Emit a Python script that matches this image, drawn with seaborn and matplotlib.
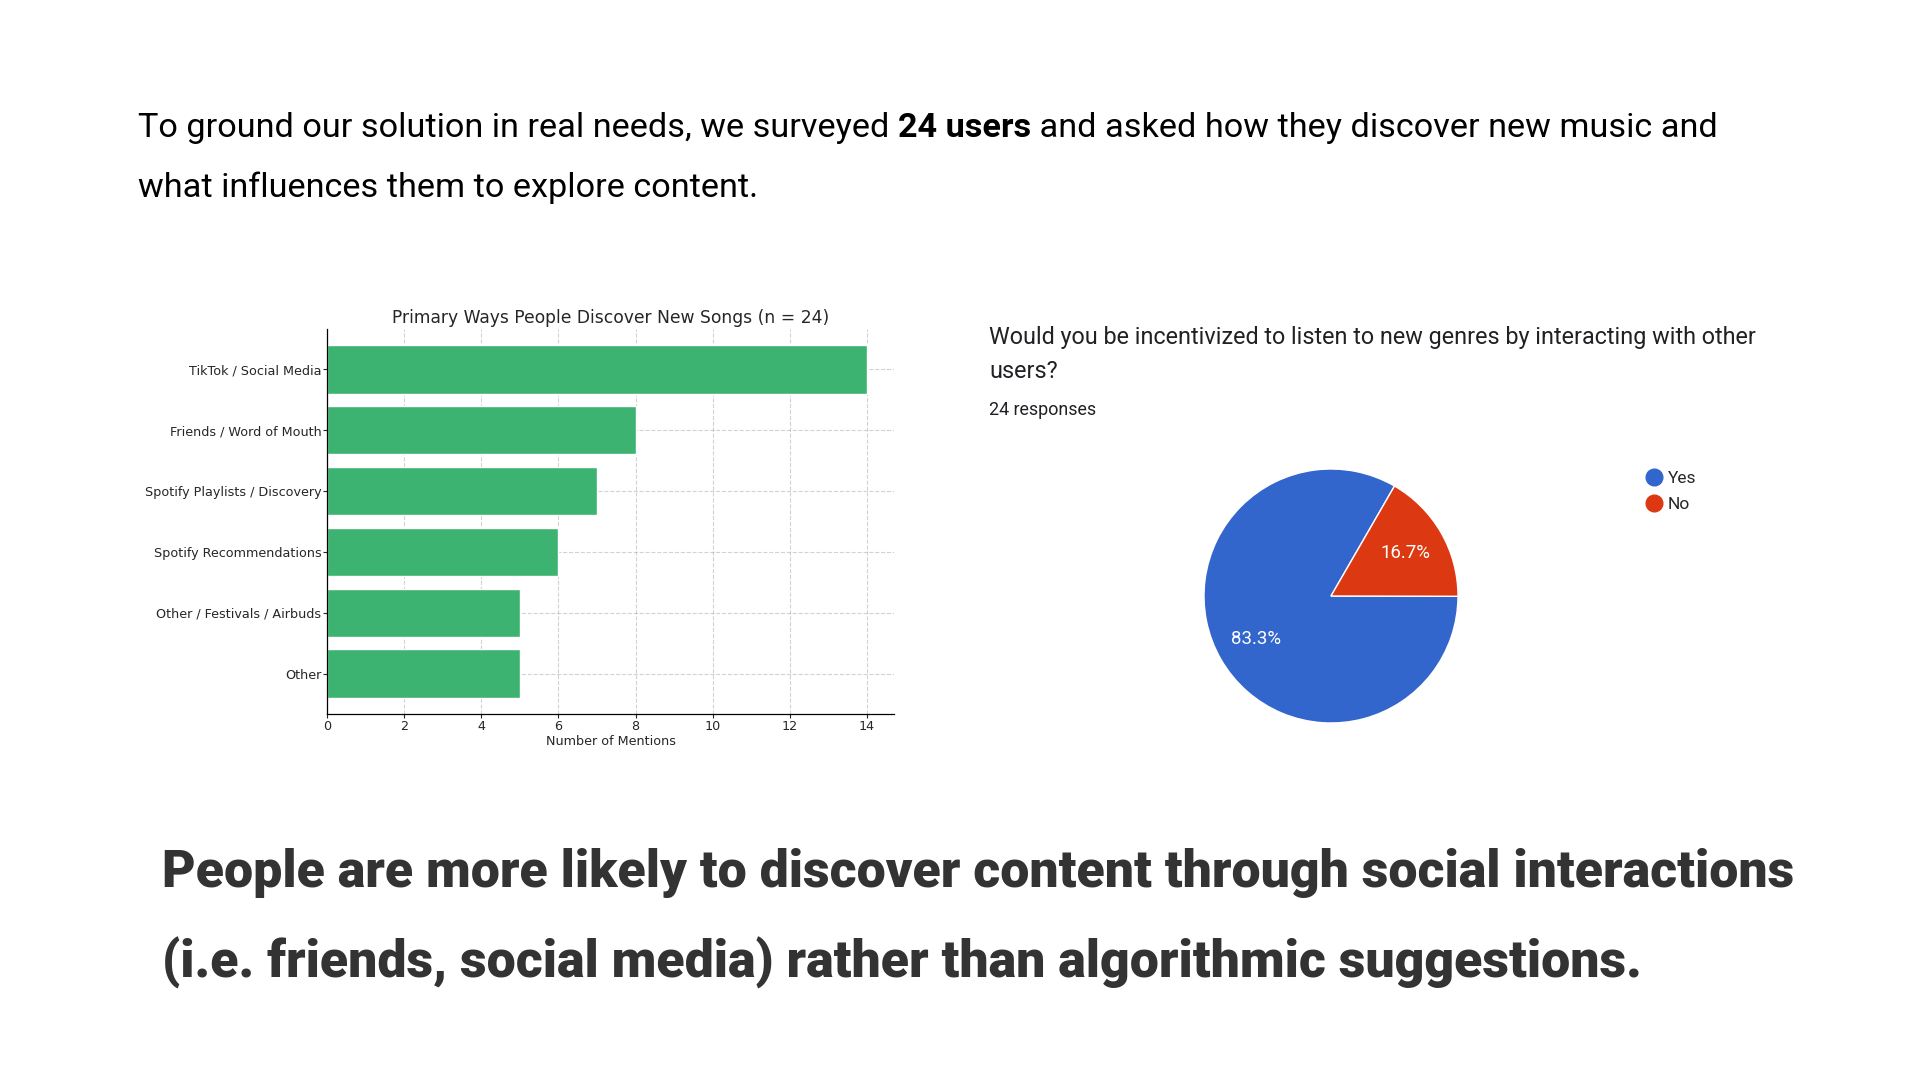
import matplotlib
matplotlib.use("Agg")
import matplotlib.pyplot as plt
from matplotlib.lines import Line2D
import seaborn as sns

# bar chart data
methods = ["TikTok / Social Media", "Friends / Word of Mouth", "Spotify Playlists / Discovery",
           "Spotify Recommendations", "Other / Festivals / Airbuds", "Other"]
mentions = [14, 8, 7, 6, 5, 5]

# pie chart data
answers = ["Yes", "No"]
answer_share = [83.3, 16.7]
answer_colors = ["#3366CC", "#DC3912"]

sns.set_style("white")
plt.rcParams['font.family'] = ['DejaVu Sans']

W, H = 1920, 1080
fig = plt.figure(figsize=(19.2, 10.8), dpi=100, facecolor="white")
renderer = fig.canvas.get_renderer()

# --- headline text (one line with a bold part, placed piece by piece) ---
head_font = ['Roboto', 'DejaVu Sans']
head_size = 24.7
x0, y0 = 138, H - 137
pieces = [("To ground our solution in real needs, we surveyed ", "normal"),
          ("24 users", "bold"),
          (" and asked how they discover new music and", "normal")]
x = x0
for txt, wt in pieces:
    t = fig.text(x / W, y0 / H, txt, fontsize=head_size, family=head_font, weight=wt,
                 color="black", va="baseline")
    x += t.get_window_extent(renderer).width
fig.text(x0 / W, (H - 197) / H, "what influences them to explore content.",
         fontsize=head_size, family=head_font, color="black", va="baseline")

# --- bar chart ---
ax = fig.add_axes([327 / W, 1 - 714 / H, 567 / W, 385 / H])
sns.barplot(x=mentions, y=methods, orient="h", color="#3CB371", saturation=1,
            width=0.8, ax=ax)
ax.set_xlim(0, 14.7)
ax.set_ylim(5.66, -0.66)
ax.set_xticks(range(0, 15, 2))
ax.set_axisbelow(True)
ax.grid(True, linestyle="--", color="gray", alpha=0.35, linewidth=0.8)
sns.despine(ax=ax)
ax.tick_params(axis="both", labelsize=9.2, length=3, left=True, bottom=True, pad=1)
ax.set_title("Primary Ways People Discover New Songs (n = 24)", fontsize=12.3, pad=4)
ax.set_xlabel("Number of Mentions", fontsize=9.2, labelpad=2)
ax.set_ylabel("")
for s in ["left", "bottom"]:
    ax.spines[s].set_color("black")
    ax.spines[s].set_linewidth(0.9)

# --- pie chart (Google Forms style) ---
q_font = ['Roboto', 'DejaVu Sans']
fig.text(989 / W, 1 - 337 / H, "Would you be incentivized to listen to new genres by interacting with other",
         fontsize=16.8, family=q_font, color="#202124", va="center")
fig.text(989 / W, 1 - 371 / H, "users?", fontsize=16.8, family=q_font, color="#202124", va="center")
fig.text(989 / W, 1 - 410 / H, "24 responses", fontsize=12.9, family=q_font, color="#202124", va="center")

pax = fig.add_axes([(1331 - 127) / W, 1 - (596 + 127) / H, 254 / W, 254 / H])
wedges, _, autotexts = pax.pie(answer_share, colors=answer_colors, startangle=60,
                               autopct="%.1f%%", pctdistance=0.68,
                               wedgeprops=dict(edgecolor="white", linewidth=1))
for at in autotexts:
    at.set_color("white")
    at.set_fontsize(13.4)
    at.set_family(q_font)
pax.set_xlim(-1, 1)
pax.set_ylim(-1, 1)
pax.set_aspect("equal")

handles = [Line2D([], [], marker="o", linestyle="", markersize=12, color=c) for c in answer_colors]
fig.legend(handles, answers, loc="upper left", bbox_to_anchor=(1645 / W, 1 - 471 / H),
           frameon=False, prop={"family": q_font, "size": 12.5}, handletextpad=0.3,
           labelspacing=0.6, borderaxespad=0, borderpad=0, handlelength=1.0)

# --- takeaway text ---
take_font = ['Roboto', 'DejaVu Sans']
fig.text(162 / W, 1 - 887 / H, "People are more likely to discover content through social interactions",
         fontsize=37.4, family=take_font, weight="black", color="#333333", va="baseline")
fig.text(162 / W, 1 - 978 / H, "(i.e. friends, social media) rather than algorithmic suggestions.",
         fontsize=37.4, family=take_font, weight="black", color="#333333", va="baseline")

fig.savefig("out.png", dpi=100, facecolor="white")
